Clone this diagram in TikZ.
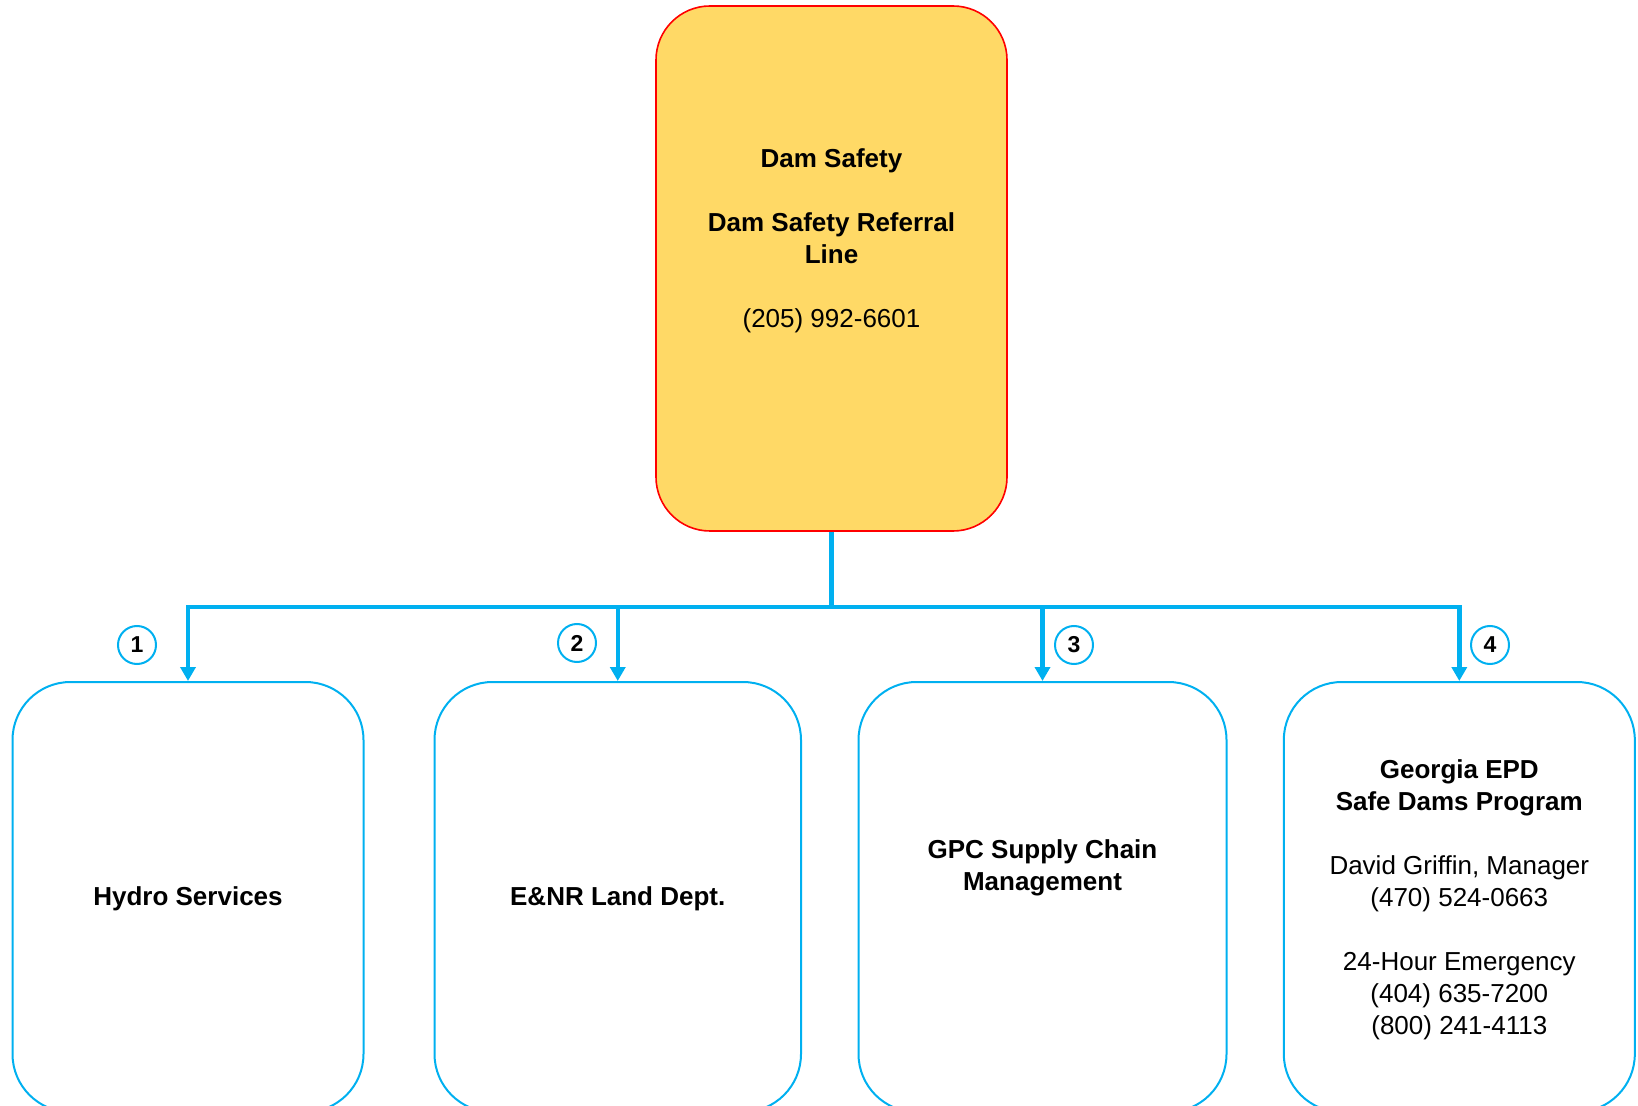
\documentclass[tikz,border=0pt]{standalone}
\usepackage{fontspec}
\setmainfont{Liberation Sans}
\usepackage{tikz}
\usetikzlibrary{arrows.meta,positioning}

\definecolor{linkblue}{HTML}{00B0F0}
\definecolor{headfill}{HTML}{FFD966}

\tikzset{
    headbox/.style={draw=red,line width=0.8pt,fill=headfill,rounded corners=27pt,
        minimum width=175.5pt,minimum height=262.5pt},
    unitbox/.style={draw=linkblue,line width=1pt,rounded corners=29pt,minimum height=215pt},
    boxtext/.style={anchor=base,align=center,font=\fontsize{13}{16}\selectfont},
    numcirc/.style={circle,draw=linkblue,line width=1pt,minimum size=19pt,inner sep=0pt,
        font=\fontsize{11.5}{13}\selectfont\bfseries},
    feed/.style={draw=linkblue,line width=2.2pt}
}

\begin{document}
\begin{tikzpicture}[x=0.5pt,y=-0.5pt,>={Triangle[length=7pt,width=7.5pt]}]
    \useasboundingbox (0,0) rectangle (1638,1106);
    \clip (0,0) rectangle (1638,1106);

    % boxes
    \node   [headbox]                           (head)   at (831.5,268.5) {};
    \node   [unitbox,minimum width=175.5pt]     (hydro)  at (188,897)     {};
    \node   [unitbox,minimum width=183.25pt]    (land)   at (617.75,897)  {};
    \node   [unitbox,minimum width=184pt]       (supply) at (1042.5,897)  {};
    \node   [unitbox,minimum width=175.5pt]     (epd)    at (1459.3,897)  {};

    % texts (base = last line)
    \node   [boxtext] (headtext) at (831.5,328)
        {\textbf{Dam Safety}\\[16pt]\textbf{Dam Safety Referral}\\\textbf{Line}\\[16pt](205) 992-6601};
    \node   [boxtext] (hydrotext)  at (188,905)    {\textbf{Hydro Services}};
    \node   [boxtext] (landtext)   at (617.75,905) {\textbf{E\&NR Land Dept.}};
    \node   [boxtext] (supplytext) at (1042.5,890) {\textbf{GPC Supply Chain}\\\textbf{Management}};
    \node   [boxtext] (epdtext)    at (1459.3,1034)
        {\textbf{Georgia EPD}\\\textbf{Safe Dams Program}\\[16pt]David Griffin, Manager\\(470) 524-0663\\[16pt]24-Hour Emergency\\(404) 635-7200\\(800) 241-4113};

    % connectors
    \path   (head.south) ++(0,75) coordinate (bus);
    \draw   [feed] (head.south) -- (bus);
    \draw   [feed,->] (bus) -| (hydro.north);
    \draw   [feed,->] (bus) -| (land.north);
    \draw   [feed,->] (bus) -| (supply.north);
    \draw   [feed,->] (bus) -| (epd.north);

    % numbers
    \node   [numcirc] (n1) at (137,645)  {1};
    \node   [numcirc] (n2) at (577,643)  {2};
    \node   [numcirc] (n3) at (1074,645) {3};
    \node   [numcirc] (n4) at (1490,645) {4};
\end{tikzpicture}
\end{document}
